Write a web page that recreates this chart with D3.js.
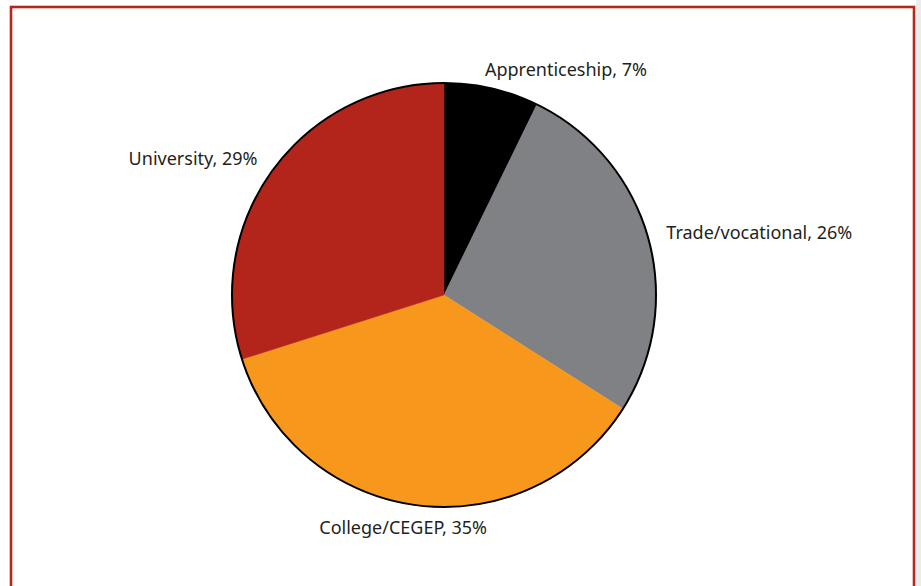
<!DOCTYPE html>
<meta charset="utf-8">
<style>
body { margin: 0; background: #fff; }
.label { font: 18px "Noto Sans", sans-serif; fill: #231f20; }
</style>
<svg width="921" height="586"></svg>
<script src="https://d3js.org/d3.v7.min.js"></script>
<script>
var categories = ["Apprenticeship", "Trade/vocational", "College/CEGEP", "University"];
var values = [7, 26, 35, 29];
var colors = ["#000000", "#808184", "#f7981d", "#b3241a"];

var svg = d3.select("svg"),
    cx = 444, cy = 295, radius = 212;

// light shadow strip at the right and the red frame
svg.append("rect").attr("x", 916).attr("y", 0).attr("width", 5).attr("height", 586).attr("fill", "#ececec");
svg.append("rect")
    .attr("x", 11).attr("y", 7).attr("width", 903).attr("height", 600)
    .attr("fill", "#fff").attr("stroke", "#b5261c").attr("stroke-width", 2.6);

var data = categories.map(function(c, i) { return {name: c, value: values[i], color: colors[i]}; });

var pie = d3.pie().sort(null).value(function(d) { return d.value; });
var arc = d3.arc().innerRadius(0).outerRadius(radius);
var labelArc = d3.arc().innerRadius(231).outerRadius(231);

var g = svg.append("g").attr("transform", "translate(" + cx + "," + cy + ")");
var arcs = pie(data);

g.selectAll(".slice")
  .data(arcs)
  .enter().append("path")
    .attr("class", "slice")
    .attr("d", arc)
    .attr("fill", function(d) { return d.data.color; })
    .attr("stroke", function(d) { return d.data.color; })
    .attr("stroke-width", 0.5);

g.append("circle")
    .attr("r", radius)
    .attr("fill", "none")
    .attr("stroke", "#000")
    .attr("stroke-width", 2);

g.selectAll(".label")
  .data(arcs)
  .enter().append("text")
    .attr("class", "label")
    .attr("transform", function(d) {
      var c = labelArc.centroid(d);
      var a = (d.startAngle + d.endAngle) / 2;
      // labels near the top/bottom sit a bit further left, as in the original
      if (Math.abs(Math.cos(a)) > 0.9) c[0] -= 11;
      if (Math.cos(a) < -0.9) c[1] += 4;
      return "translate(" + c + ")";
    })
    .attr("dy", "0.35em")
    .attr("text-anchor", function(d) {
      var a = (d.startAngle + d.endAngle) / 2;
      if (Math.cos(a) < -0.9) return "middle";
      return Math.sin(a) >= 0 ? "start" : "end";
    })
    .text(function(d) { return d.data.name + ", " + d.data.value + "%"; });
</script>
